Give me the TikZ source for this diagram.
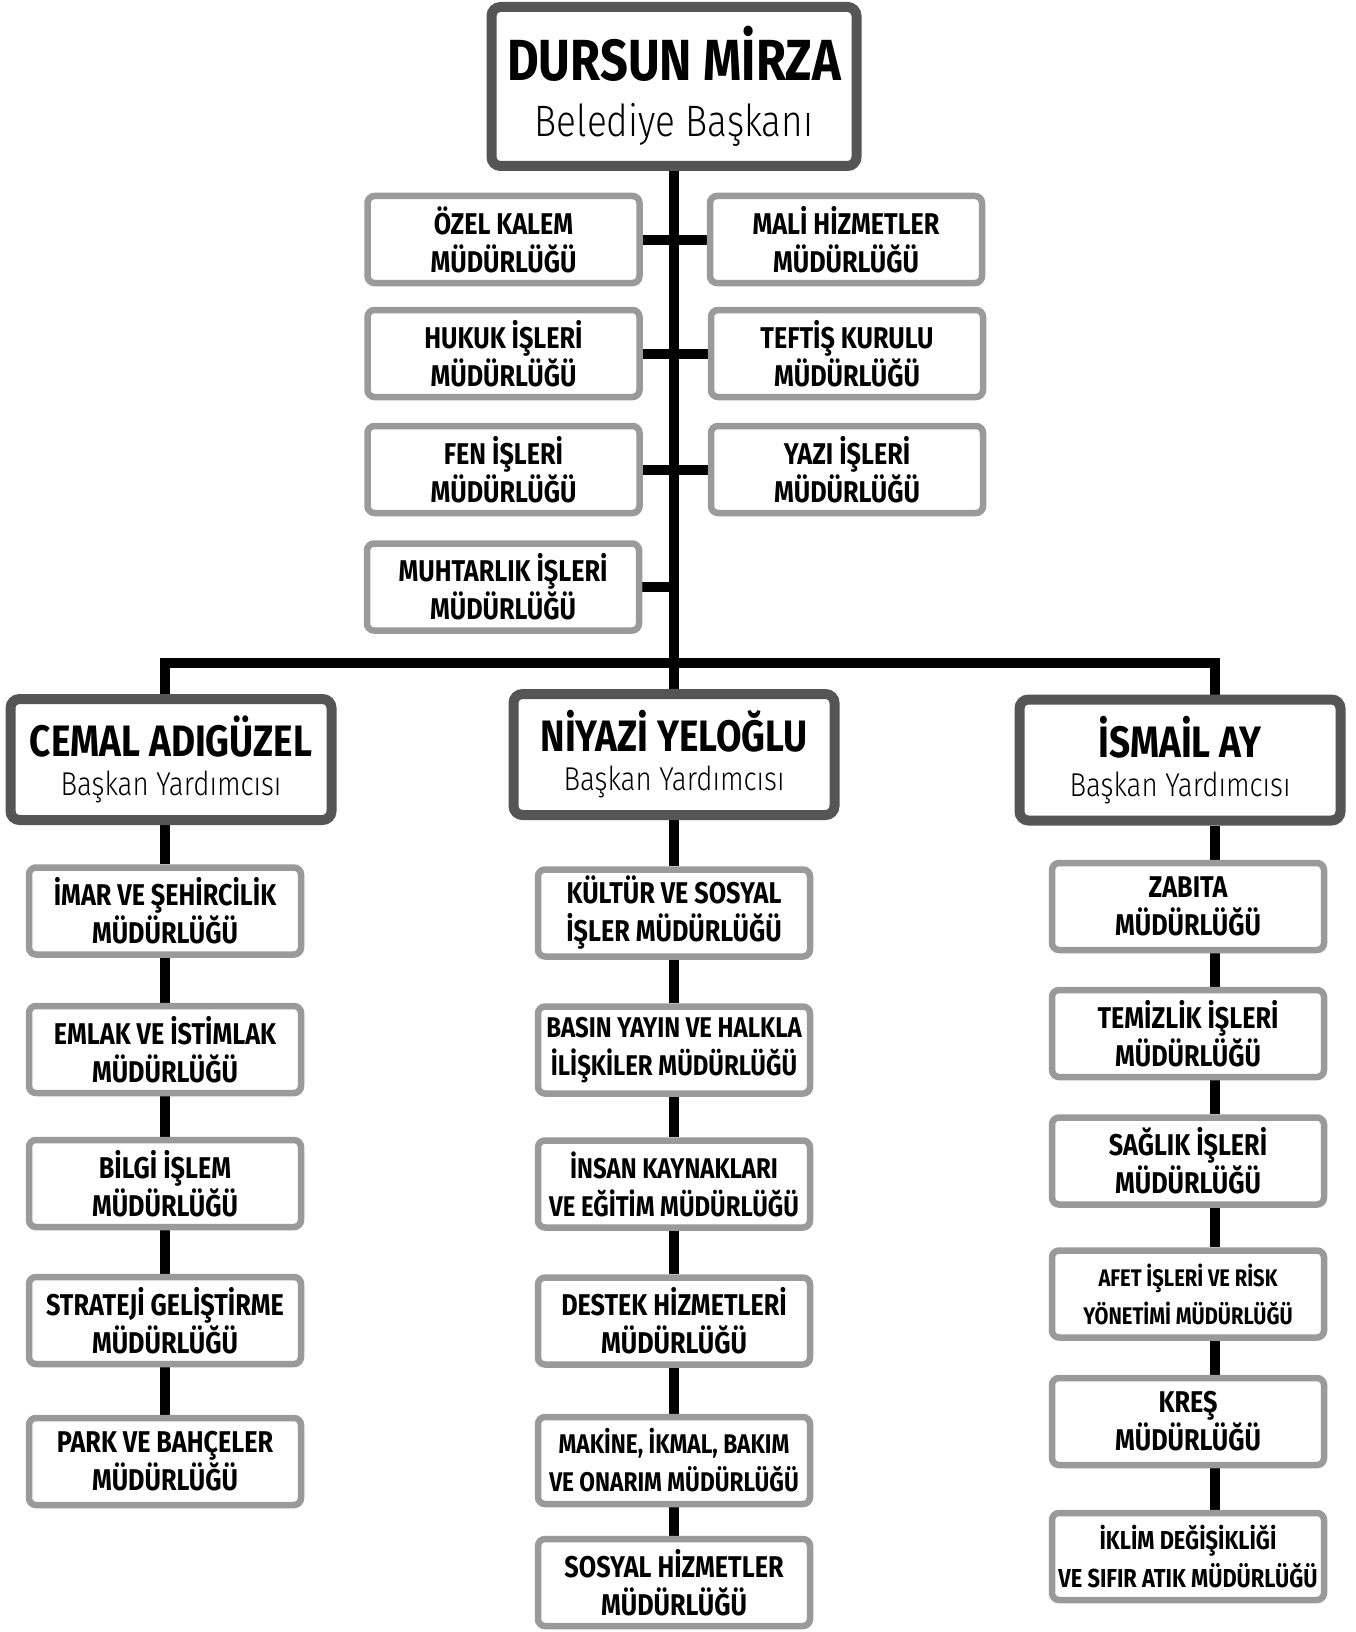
\documentclass[tikz,border=0pt]{standalone}
\usepackage{fontspec}
\setmainfont{Fira Sans}[FakeStretch=0.84]
\newfontfamily\lightfont{Fira Sans Light}[FakeStretch=0.84]
\usetikzlibrary{backgrounds}

\definecolor{chiefgray}{HTML}{555555}
\definecolor{unitgray}{HTML}{9A9A9A}

\tikzset{
  chief/.style={draw=chiefgray, line width=10pt, rounded corners=9pt, fill=white,
    align=center, inner sep=0pt, minimum width=321pt, minimum height=121pt,
    font=\fontsize{33}{39}\selectfont\lightfont},
  unit/.style={draw=unitgray, line width=6.5pt, rounded corners=7pt, fill=white,
    align=center, inner sep=0pt, minimum width=272pt, minimum height=87pt,
    font=\fontsize{30}{38}\selectfont\bfseries},
  unit small/.style={font=\fontsize{#1}{38}\selectfont\bfseries},
  link/.style={line width=10pt, black, line join=miter}
}
\newcommand{\bname}[1]{{\fontsize{44}{39}\selectfont\normalfont\bfseries #1}}

\begin{document}
\begin{tikzpicture}[x=1pt, y=-1pt]
\useasboundingbox (0,0) rectangle (1355,1632);

% baskan
\node[chief, minimum width=365pt, minimum height=159pt, font=\fontsize{44}{56}\selectfont\lightfont]
  (mayor) at (674,86.5) {{\fontsize{58}{56}\selectfont\normalfont\bfseries DURSUN MİRZA}\\Belediye Başkanı};

% dogrudan baskana bagli birimler
\node[unit] (ozel)   at (503.5,239.5) {ÖZEL KALEM\\MÜDÜRLÜĞÜ};
\node[unit] (hukuk)  at (503.5,353.5) {HUKUK İŞLERİ\\MÜDÜRLÜĞÜ};
\node[unit] (fen)    at (503.5,469.5) {FEN İŞLERİ\\MÜDÜRLÜĞÜ};
\node[unit] (muhtar) at (503,587)     {MUHTARLIK İŞLERİ\\MÜDÜRLÜĞÜ};
\node[unit] (mali)   at (846,239.5)   {MALİ HİZMETLER\\MÜDÜRLÜĞÜ};
\node[unit] (teftis) at (847,353.5)   {TEFTİŞ KURULU\\MÜDÜRLÜĞÜ};
\node[unit] (yazi)   at (847,469.5)   {YAZI İŞLERİ\\MÜDÜRLÜĞÜ};

% baskan yardimcilari
\node[chief] (cemal)  at (171,759.5)  {\bname{CEMAL ADIGÜZEL}\\Başkan Yardımcısı};
\node[chief] (niyazi) at (674,754.5)  {\bname{NİYAZİ YELOĞLU}\\Başkan Yardımcısı};
\node[chief] (ismail) at (1180,760)   {\bname{İSMAİL AY}\\Başkan Yardımcısı};

% sol kolon
\node[unit] (imar)     at (165,911)    {İMAR VE ŞEHİRCİLİK\\MÜDÜRLÜĞÜ};
\node[unit] (emlak)    at (165,1049.5) {EMLAK VE İSTİMLAK\\MÜDÜRLÜĞÜ};
\node[unit] (bilgi)    at (165,1183.5) {BİLGİ İŞLEM\\MÜDÜRLÜĞÜ};
\node[unit] (strateji) at (165,1320.5) {STRATEJİ GELİŞTİRME\\MÜDÜRLÜĞÜ};
\node[unit] (park)     at (165,1461.5) {PARK VE BAHÇELER\\MÜDÜRLÜĞÜ};

% orta kolon
\node[unit] (kultur) at (674,913)    {KÜLTÜR VE SOSYAL\\İŞLER MÜDÜRLÜĞÜ};
\node[unit, unit small=28.5] (basin)  at (674,1050)   {BASIN YAYIN VE HALKLA\\İLİŞKİLER MÜDÜRLÜĞÜ};
\node[unit, unit small=28.5] (insan)  at (674,1184)   {İNSAN KAYNAKLARI\\VE EĞİTİM MÜDÜRLÜĞÜ};
\node[unit] (destek) at (674,1321)   {DESTEK HİZMETLERİ\\MÜDÜRLÜĞÜ};
\node[unit, unit small=27] (makine) at (674,1460.5) {MAKİNE, İKMAL, BAKIM\\VE ONARIM MÜDÜRLÜĞÜ};
\node[unit] (sosyal) at (674,1582.5) {SOSYAL HİZMETLER\\MÜDÜRLÜĞÜ};

% sag kolon
\node[unit] (zabita)   at (1188,906.5)  {ZABITA\\MÜDÜRLÜĞÜ};
\node[unit] (temizlik) at (1188,1033.5) {TEMİZLİK İŞLERİ\\MÜDÜRLÜĞÜ};
\node[unit] (saglik)   at (1188,1161)   {SAĞLIK İŞLERİ\\MÜDÜRLÜĞÜ};
\node[unit, unit small=24] (afet) at (1188,1294) {AFET İŞLERİ VE RİSK\\YÖNETİMİ MÜDÜRLÜĞÜ};
\node[unit] (kres)     at (1188,1421.5) {KREŞ\\MÜDÜRLÜĞÜ};
\node[unit, unit small=26] (iklim) at (1188,1556.5) {İKLİM DEĞİŞİKLİĞİ\\VE SIFIR ATIK MÜDÜRLÜĞÜ};

\coordinate (hub)  at (674,663);
\coordinate (lcol) at (165,663);
\coordinate (rcol) at (1215,663);

\begin{scope}[on background layer]
  \fill[white] (0,0) rectangle (1355,1632);
  % govde ve kollar
  \draw[link] (mayor.south) -- (hub) -- (niyazi.north);
  \draw[link] (ozel) -- (mali);
  \draw[link] (hukuk) -- (teftis);
  \draw[link] (fen) -- (yazi);
  \draw[link] (muhtar) -- (muhtar -| hub);
  \draw[link] (cemal.north -| lcol) -- (lcol) -- (rcol) -- (ismail.north -| rcol);
  % kolon baglantilari
  \foreach \a/\b in {cemal/imar, imar/emlak, emlak/bilgi, bilgi/strateji, strateji/park}
    \draw[link] (\a.south -| lcol) -- (\b.north -| lcol);
  \foreach \a/\b in {niyazi/kultur, kultur/basin, basin/insan, insan/destek, destek/makine, makine/sosyal}
    \draw[link] (\a.south -| hub) -- (\b.north -| hub);
  \foreach \a/\b in {ismail/zabita, zabita/temizlik, temizlik/saglik, saglik/afet, afet/kres, kres/iklim}
    \draw[link] (\a.south -| rcol) -- (\b.north -| rcol);
\end{scope}
\end{tikzpicture}
\end{document}
